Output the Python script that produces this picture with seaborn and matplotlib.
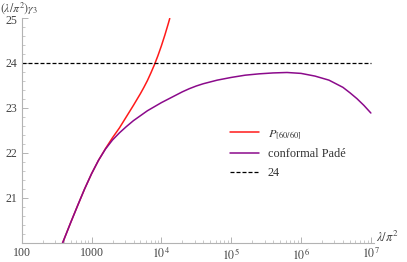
import numpy as np
import pandas as pd
import matplotlib
matplotlib.use("Agg")
import matplotlib.pyplot as plt
import matplotlib.transforms as mtransforms
import seaborn as sns

# values
pade_lam = [382, 501, 631, 794, 1000, 1259, 1585, 1995, 2512, 3162, 3981,
            5012, 6310, 7943, 10000, 12589, 15849, 19953, 25119, 31623, 39811,
            63096, 100000, 158489, 251189, 398107, 630957, 1000000, 1584893,
            2511886, 3981072, 5011872, 6309573, 7943282, 10000000]
pade_val = [19.98, 20.44, 20.82, 21.19, 21.53, 21.83, 22.08, 22.28, 22.44,
            22.58, 22.71, 22.82, 22.93, 23.02, 23.11, 23.19, 23.27, 23.35,
            23.42, 23.48, 23.53, 23.61, 23.67, 23.72, 23.75, 23.77, 23.78,
            23.76, 23.70, 23.61, 23.45, 23.33, 23.20, 23.05, 22.88]

p60_lam = [382, 501, 631, 794, 1000, 1259, 1585, 1995, 2512, 3162, 3981,
           5012, 5623, 6310, 7079, 7943, 8913, 10000, 11220, 12589, 13183]
p60_val = [19.98, 20.44, 20.82, 21.19, 21.53, 21.83, 22.09, 22.33, 22.55,
           22.80, 23.05, 23.31, 23.45, 23.60, 23.77, 23.95, 24.15, 24.37,
           24.61, 24.87, 24.98]

ref_lam = [100, 1e7]
ref_val = [24, 24]

x_ticks = [100, 1000, 1e4, 1e5, 1e6, 1e7]
x_labels = ["100", "1000", "$10^4$", "$10^5$", "$10^6$", "$10^7$"]
y_ticks = [21, 22, 23, 24, 25]

sns.set_theme(style="ticks")
plt.rcParams["font.family"] = ["Liberation Serif", "DejaVu Serif"]
plt.rcParams["mathtext.fontset"] = "stix"

fig = plt.figure(figsize=(4.07, 2.62), dpi=100)
ax = fig.add_axes([0.0533, 0.0737, 0.865, 0.8593])

df_p60 = pd.DataFrame({"lam": p60_lam, "val": p60_val})
df_pade = pd.DataFrame({"lam": pade_lam, "val": pade_val})
df_ref = pd.DataFrame({"lam": ref_lam, "val": ref_val})

sns.lineplot(data=df_p60, x="lam", y="val", ax=ax, color="#ff1a1a", lw=1.1,
             sort=False, label="$P_{[60/60]}$")
sns.lineplot(data=df_pade, x="lam", y="val", ax=ax, color="#8b0a8b", lw=1.1,
             sort=False, label="conformal Padé")
sns.lineplot(data=df_ref, x="lam", y="val", ax=ax, color="black", lw=0.9,
             linestyle=(0, (3.2, 1.6)), sort=False, label="24")

ax.set_xscale("log")
ax.set_xlim(100, 1.1e7)
ax.set_ylim(20, 25)
ax.set_xticks(x_ticks)
ax.set_xticklabels(x_labels)
ax.set_yticks(y_ticks)
ax.set_yticks(np.arange(20, 25.01, 0.2), minor=True)
ax.set_xlabel("")
ax.set_ylabel("")

for side in ["top", "right"]:
    ax.spines[side].set_visible(False)
for side in ["left", "bottom"]:
    ax.spines[side].set_color("#b3b3b3")
    ax.spines[side].set_linewidth(0.8)
ax.tick_params(which="both", direction="in", color="#b3b3b3", labelcolor="#444444",
               labelsize=8.6)
ax.tick_params(which="major", length=4, width=0.7, pad=3)
ax.tick_params(which="minor", length=2, width=0.5)

# nudge the top y tick label down a touch so it clears the axis title
top_lbl = ax.get_yticklabels()[-1]
top_lbl.set_transform(top_lbl.get_transform()
                      + mtransforms.ScaledTranslation(0, -1.5 / 72, fig.dpi_scale_trans))

leg = ax.legend(loc="upper left", bbox_to_anchor=(0.56, 0.56), frameon=False,
                fontsize=8.8, handlelength=2.4, handletextpad=0.7, labelspacing=0.6,
                labelcolor="#333333")

fig.text(0.0, 1.0, r"$(\lambda/\pi^2)\gamma_3$", fontsize=8.5, color="#444444",
         ha="left", va="top")
fig.text(0.925, 0.095, r"$\lambda/\pi^2$", fontsize=9, color="#444444",
         ha="left", va="center")

fig.savefig("out.png", dpi=100)
